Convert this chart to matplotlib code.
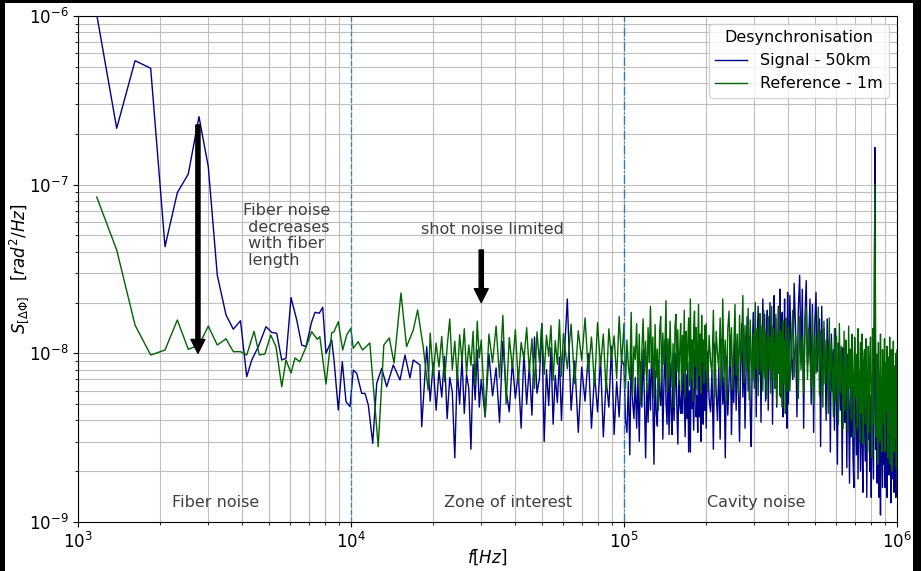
import numpy as np
import matplotlib
matplotlib.use("Agg")
import matplotlib.pyplot as plt
from matplotlib.patches import Rectangle

# ---- data (PSD values in units of 1e-9 rad^2/Hz) ----
# low-frequency part, individual FFT bins
f_sig_low = [1171, 1386, 1618, 1846, 2083, 2311, 2535, 2774, 3001, 3237,
             3484, 3706, 3937, 4150, 4329, 4576, 4883, 5123, 5344, 5576,
             5780, 6029, 6326, 6598, 6843, 7178, 7382, 7654, 7877, 8097,
             8498, 8664, 8985, 9292, 9587, 9916, 10195, 10493, 10944, 11254,
             11572, 12011, 12423, 12956, 13513, 14287, 15117, 15767, 16446, 16910,
             17890, 18155, 18937]
s_sig_low = [1020, 216, 543, 490, 42.9, 89.6, 115.7, 253, 127.8, 29.1,
             16.9, 13.9, 15.6, 7.27, 9.13, 10.95, 14.4, 13.3, 13.15, 9.13,
             9.35, 21.4, 15.8, 11.2, 10.95, 15.4, 17.5, 17.3, 18.75, 10.0,
             12.0, 9.13, 4.61, 8.92, 5.17, 4.83, 7.96, 7.61, 5.79, 5.79,
             4.94, 2.93, 6.64, 8.15, 6.34, 8.53, 6.95, 9.77, 7.14, 9.13,
             8.53, 3.67, 10.95]

f_ref_low = [1171, 1386, 1618, 1846, 2083, 2311, 2535, 2774, 3001, 3237,
             3484, 3706, 3937, 4150, 4413, 4617, 4836, 5081, 5312, 5576,
             5780, 6029, 6234, 6494, 6843, 7178, 7523, 7688, 8097, 8498,
             8664, 8985, 9322, 9643, 9982, 10195, 10620, 11020, 11720, 12580,
             13190, 13810, 14380, 15240, 15980, 16910, 17540, 18380, 19170]
s_ref_low = [84.5, 41.0, 14.7, 9.77, 10.46, 15.76, 10.56, 11.2, 14.5, 11.2,
             12.2, 10.23, 10.23, 9.77, 13.5, 9.77, 9.91, 12.84, 10.95, 6.34,
             9.13, 7.64, 9.38, 8.92, 10.9, 13.44, 12.1, 12.55, 6.58, 13.26,
             13.44, 15.4, 10.46, 12.84, 14.07, 10.71, 11.72, 10.46, 11.51, 2.80,
             11.2, 12.33, 8.76, 22.8, 10.95, 13.75, 18.07, 10.95, 6.06]

# zone of interest, 19.5 - 98 kHz (shared grid, kHz)
f_mid_khz = [19.5, 20, 20.5, 21, 21.5, 22, 22.5, 23, 23.5, 24, 24.5,
             25, 25.5, 26, 26.5, 27, 27.5, 28, 28.5, 29, 29.5, 30,
             31, 32, 33, 34, 35, 36, 37, 38, 39, 40, 41, 42, 43, 44, 45,
             46, 47, 48, 49, 50, 51, 52, 53, 54, 55, 56, 57, 58, 59, 60,
             62, 64, 66, 68, 70, 72, 74, 76, 78, 80, 82, 84, 86, 88, 90,
             92, 94, 96, 98]
s_sig_mid = [5.2, 8.8, 4.6, 7.9, 5.5, 9.6, 4.1, 7.2, 5.9, 2.4, 8.1,
             5.0, 9.3, 4.4, 7.5, 6.2, 2.7, 8.6, 5.3, 10.5, 4.8, 7.0,
             4.2, 9.9, 5.6, 8.2, 3.9, 11.8, 6.0, 4.5, 9.0, 5.4, 7.7, 3.6, 10.2, 5.0, 8.4,
             4.3, 12.5, 5.8, 7.1, 15.0, 3.0, 8.0, 4.9, 10.8, 3.8, 7.4, 5.1, 9.5, 4.0, 7.8,
             21.0, 4.6, 9.0, 3.4, 8.3, 5.2, 10.0, 3.6, 7.6, 4.5, 9.4, 3.2, 7.0, 4.8, 11.0,
             3.3, 6.8, 4.2, 9.2]
s_ref_mid = [13.2, 7.4, 11.5, 8.3, 12.6, 6.8, 10.9, 16.0, 8.0, 11.8, 7.0,
             12.9, 9.0, 14.0, 7.6, 11.2, 8.5, 13.5, 6.5, 15.5, 9.4, 12.0,
             4.2, 13.0, 8.8, 14.5, 7.2, 16.8, 5.0, 12.4, 8.2, 13.8, 6.7, 11.6, 9.2, 14.2, 7.8,
             12.2, 6.2, 13.4, 8.9, 15.0, 7.5, 12.8, 9.6, 14.6, 6.9, 11.9, 8.6, 15.8, 7.3, 13.1,
             8.1, 14.9, 6.6, 13.6, 9.1, 16.2, 7.7, 12.5, 6.4, 15.2, 8.4, 13.0, 5.9, 14.0, 9.3,
             12.7, 7.1, 16.5, 8.7]

# cavity noise region, 100 kHz - 1 MHz (shared grid, kHz)
f_high_khz = [
    100, 101.25, 102.5, 103.75, 105, 106.25, 107.5, 108.75, 110, 111.25,
    112.5, 113.75, 115, 116.25, 117.5, 118.75, 120, 121.25, 122.5, 123.75,
    125, 126.25, 127.5, 128.75, 130, 131.25, 132.5, 133.75, 135, 136.25,
    137.5, 138.75, 140, 141.25, 142.5, 143.75, 145, 146.25, 147.5, 148.75,
    150, 151.25, 152.5, 153.75, 155, 156.25, 157.5, 158.75, 160, 161.25,
    162.5, 163.75, 165, 166.25, 167.5, 168.75, 170, 171.25, 172.5, 173.75,
    175, 176.25, 177.5, 178.75, 180, 181.25, 182.5, 183.75, 185, 186.25,
    187.5, 188.75, 190, 191.25, 192.5, 193.75, 195, 196.25, 197.5, 198.75,
    200, 202.5, 205, 207.5, 210, 212.5, 215, 217.5, 220, 222.5,
    225, 227.5, 230, 232.5, 235, 237.5, 240, 242.5, 245, 247.5,
    250, 252.5, 255, 257.5, 260, 262.5, 265, 267.5, 270, 272.5,
    275, 277.5, 280, 282.5, 285, 287.5, 290, 292.5, 295, 297.5,
    300, 302.5, 305, 307.5, 310, 312.5, 315, 317.5, 320, 322.5,
    325, 327.5, 330, 332.5, 335, 337.5, 340, 342.5, 345, 347.5,
    350, 352.5, 355, 357.5, 360, 362.5, 365, 367.5, 370, 372.5,
    375, 377.5, 380, 382.5, 385, 387.5, 390, 392.5, 395, 397.5,
    400, 405, 410, 415, 420, 425, 430, 435, 440, 445,
    450, 455, 460, 465, 470, 475, 480, 485, 490, 495,
    500, 505, 510, 515, 520, 525, 530, 535, 540, 545,
    550, 555, 560, 565, 570, 575, 580, 585, 590, 595,
    600, 605, 610, 615, 620, 625, 630, 635, 640, 645,
    650, 655, 660, 665, 670, 675, 680, 685, 690, 695,
    700, 705, 710, 715, 720, 725, 730, 735, 740, 745,
    750, 755, 760, 765, 770, 775, 780, 785, 790, 795,
    800, 805, 810, 815, 820, 825, 830, 835, 840, 845,
    850, 855, 860, 865, 870, 875, 880, 885, 890, 895,
    900, 905, 910, 915, 920, 925, 930, 935, 940, 945,
    950, 955, 960, 965, 970, 975, 980, 985, 990, 995,
    1000]
s_sig_high = [
    8.5, 4.0, 3.4, 6.8, 2.5, 9.8, 5.2, 4.1, 7.2, 3.6,
    7.2, 3.0, 8.9, 4.8, 10.5, 5.6, 2.4, 6.6, 3.9, 8.0,
    4.6, 11.2, 5.3, 2.2, 7.9, 4.4, 3.7, 9.1, 5.8, 4.9,
    9.1, 3.1, 6.4, 12.0, 5.2, 3.8, 7.7, 3.3, 8.7, 4.5,
    3.3, 8.7, 4.0, 6.3, 10.0, 4.6, 2.9, 6.9, 5.0, 4.4,
    6.9, 4.4, 11.5, 5.4, 3.2, 7.5, 4.1, 8.8, 2.6, 6.0,
    2.6, 9.4, 4.7, 6.2, 3.5, 7.3, 10.8, 4.2, 5.6, 3.4,
    10.8, 4.2, 8.0, 3.0, 6.5, 9.7, 3.8, 7.1, 4.6, 8.4,
    3.6, 10.2, 5.4, 4.5, 7.8, 2.7, 11.4, 6.0, 4.0, 8.3,
    3.1, 12.2, 5.0, 7.2, 2.4, 9.6, 4.3, 6.8, 12.8, 3.3,
    7.4, 5.1, 13.5, 4.6, 10.6, 6.2, 3.0, 9.0, 15.0, 5.5,
    11.8, 3.6, 7.6, 16.5, 6.0, 12.6, 4.4, 2.8, 9.8, 17.5,
    6.8, 14.0, 4.2, 11.0, 19.0, 7.5, 15.5, 3.9, 10.4, 21.0,
    8.0, 17.0, 5.2, 13.0, 18.0, 4.6, 9.5, 20.0, 7.0, 14.5,
    3.8, 12.0, 22.0, 6.4, 16.0, 4.8, 10.0, 19.0, 8.5, 24.0,
    5.5, 13.5, 17.5, 4.2, 11.0, 21.0, 7.2, 15.0, 3.6, 23.0,
    5.0, 22.0, 9.5, 7.0, 26.0, 14.0, 4.2, 18.0, 29.0, 9.0,
    24.0, 3.6, 16.0, 27.0, 8.5, 12.0, 21.0, 5.0, 19.5, 3.4,
    15.0, 23.0, 7.8, 11.0, 16.0, 2.8, 19.0, 6.5, 14.0, 10.0,
    4.0, 16.0, 8.2, 12.0, 2.6, 13.0, 6.0, 10.5, 3.5, 14.0,
    5.2, 2.2, 11.5, 7.0, 4.6, 9.6, 1.9, 10.8, 5.5, 3.9,
    8.4, 2.1, 9.8, 4.8, 1.7, 7.6, 3.2, 9.0, 2.4, 1.6,
    8.2, 4.4, 2.5, 6.8, 1.8, 7.9, 3.8, 2.0, 8.6, 3.0,
    1.5, 7.2, 4.2, 2.3, 9.0, 1.4, 6.4, 3.1, 7.8, 2.0,
    5.6, 1.4, 7.0, 3.6, 1.8, 8.0, 166.0, 2.7, 6.4, 1.7,
    7.5, 2.6, 1.4, 5.8, 1.1, 6.2, 3.0, 1.6, 5.0, 2.2,
    5.4, 1.6, 6.6, 2.8, 1.4, 4.8, 2.2, 1.9, 6.0, 3.1,
    1.3, 4.4, 2.4, 1.8, 5.6, 1.5, 3.8, 2.6, 1.4, 4.6,
    3.4]
s_ref_high = [
    15.0, 6.2, 12.0, 8.4, 7.0, 17.5, 5.6, 11.0, 9.2, 15.0,
    6.6, 13.0, 5.0, 10.4, 16.0, 7.5, 11.8, 6.0, 14.2, 8.8,
    19.0, 8.2, 12.5, 5.4, 14.8, 7.2, 10.6, 4.6, 13.4, 16.5,
    6.8, 13.2, 8.6, 11.0, 20.5, 5.9, 12.2, 7.3, 15.5, 9.0,
    6.3, 11.4, 4.8, 14.6, 17.0, 7.8, 13.8, 6.5, 10.2, 15.0,
    6.0, 12.8, 7.6, 18.0, 5.5, 13.5, 8.0, 11.2, 16.2, 6.4,
    21.0, 7.0, 12.0, 5.2, 14.4, 17.8, 8.4, 14.2, 6.1, 10.8,
    19.5, 7.4, 13.0, 5.8, 16.8, 8.8, 12.0, 6.7, 14.6, 7.9,
    15.0, 6.0, 12.8, 9.0, 7.6, 18.0, 5.5, 13.5, 10.0, 8.0,
    16.2, 6.4, 21.0, 7.0, 12.0, 5.2, 14.0, 17.8, 8.4, 14.2,
    6.1, 10.8, 19.5, 7.4, 13.0, 5.8, 16.8, 8.8, 12.2, 22.0,
    6.7, 14.6, 7.9, 11.0, 18.5, 5.3, 15.8, 9.2, 7.1, 13.2,
    6.2, 20.0, 8.1, 14.0, 5.6, 11.8, 17.2, 7.7, 14.5, 6.0,
    18.0, 7.2, 13.0, 5.4, 10.5, 16.5, 8.0, 12.4, 5.8, 19.0,
    7.0, 14.0, 9.6, 6.2, 17.0, 5.0, 12.8, 7.6, 18.8, 5.6,
    13.6, 10.0, 4.8, 15.5, 6.6, 12.0, 4.4, 16.2, 8.4, 6.0,
    14.5, 6.0, 10.5, 18.0, 7.2, 13.0, 9.0, 5.4, 16.5, 8.0,
    12.4, 5.8, 15.0, 19.0, 7.0, 14.0, 9.4, 6.2, 17.0, 5.0,
    12.8, 7.6, 10.0, 18.8, 5.6, 13.6, 8.6, 4.8, 15.5, 6.6,
    12.0, 9.0, 4.4, 16.2, 6.0, 11.5, 7.8, 4.2, 14.0, 5.2,
    12.6, 8.4, 3.8, 15.0, 5.8, 11.0, 7.0, 3.6, 13.5, 4.6,
    12.0, 8.0, 3.4, 14.5, 6.2, 10.6, 4.0, 13.0, 7.4, 3.2,
    12.4, 5.5, 9.8, 3.6, 14.0, 6.8, 3.0, 11.6, 4.4, 13.0,
    2.9, 8.6, 10.5, 3.8, 12.2, 6.0, 2.6, 11.0, 3.4, 9.4,
    12.5, 4.8, 2.4, 14.0, 3.8, 20.0, 100.0, 12.0, 3.2, 9.8,
    2.2, 11.6, 5.0, 3.0, 13.0, 4.4, 2.6, 10.5, 6.0, 3.8,
    12.2, 2.6, 8.8, 4.6, 11.0, 2.4, 9.5, 3.4, 12.5, 2.2,
    7.8, 10.5, 2.0, 6.4, 11.8, 2.6, 8.4, 3.2, 10.0, 2.1,
    10.5]

f_sig = np.concatenate([f_sig_low, np.array(f_mid_khz) * 1e3, np.array(f_high_khz) * 1e3])
s_sig = np.concatenate([s_sig_low, s_sig_mid, s_sig_high]) * 1e-9
f_ref = np.concatenate([f_ref_low, np.array(f_mid_khz) * 1e3, np.array(f_high_khz) * 1e3])
s_ref = np.concatenate([s_ref_low, s_ref_mid, s_ref_high]) * 1e-9

txt_col = "#404040"

fig = plt.figure(figsize=(9.21, 5.71), dpi=100, facecolor="black")
# white canvas inside the black screenshot border
fig.patches.append(Rectangle((5 / 921, 0), 908 / 921, 568 / 571,
                             transform=fig.transFigure, facecolor="white",
                             edgecolor="none", zorder=-10))
ax = fig.add_axes([78 / 921, 1 - 522 / 571, (897 - 78) / 921, (522 - 16) / 571])

ax.plot(f_sig, s_sig, color="darkblue", lw=1.0, label="Signal - 50km")
ax.plot(f_ref, s_ref, color="darkgreen", lw=1.0, label="Reference - 1m")

ax.axvline(1e4, color="C0", ls="--", lw=1.0, alpha=0.8)
ax.axvline(1e5, color="C0", ls="-.", lw=1.0, alpha=0.9)

ax.set_xscale("log"); ax.set_yscale("log")
ax.set_xlim(1e3, 1e6); ax.set_ylim(1e-9, 1e-6)
ax.grid(True, which="both", color="#b0b0b0", lw=0.8, alpha=0.8)
ax.tick_params(labelsize=12)
ax.set_xlabel(r"$f[Hz]$", fontsize=12)
ax.set_ylabel(r"$S_{[\Delta\Phi]}\quad[rad^2/Hz]$", fontsize=12)
ax.xaxis.set_label_coords(0.5, -0.05)
ax.yaxis.set_label_coords(-0.058, 0.5)

arrow = dict(facecolor="black", edgecolor="black", width=3, headwidth=10,
             headlength=10, shrink=0)
ax.annotate("", xy=(2750, 1.0e-8), xytext=(2750, 2.26e-7), arrowprops=arrow)
ax.annotate("", xy=(3.0e4, 2.0e-8), xytext=(3.0e4, 4.1e-8), arrowprops=arrow)

ax.text(4020, 7.8e-8, "Fiber noise\n decreases\n with fiber\n length",
        ha="left", va="top", fontsize=11.5, color=txt_col, linespacing=1.15)
ax.text(3.29e4, 5.4e-8, "shot noise limited", ha="center", va="center",
        fontsize=11.5, color=txt_col)
ax.text(3180, 1.3e-9, "Fiber noise", ha="center", va="center", fontsize=11.5, color=txt_col)
ax.text(3.76e4, 1.3e-9, "Zone of interest", ha="center", va="center", fontsize=11.5, color=txt_col)
ax.text(3.04e5, 1.3e-9, "Cavity noise", ha="center", va="center", fontsize=11.5, color=txt_col)

ax.legend(title="Desynchronisation", loc="upper right", fontsize=11.5,
          title_fontsize=11.5)

fig.savefig("out.png", dpi=100, facecolor=fig.get_facecolor())
